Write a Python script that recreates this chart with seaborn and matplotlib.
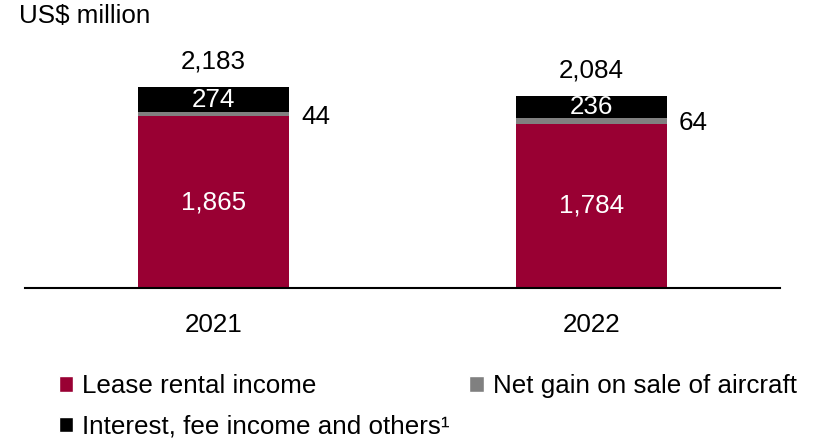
import matplotlib
matplotlib.use("Agg")
import matplotlib.pyplot as plt
from matplotlib.patches import Patch
import seaborn as sns
import pandas as pd

# Revenue breakdown, US$ million
years = ["2021", "2022"]
lease_rental = [1865, 1784]
net_gain = [44, 64]
interest_fee = [274, 236]
totals = [2183, 2084]

series_names = ["Lease rental income", "Net gain on sale of aircraft",
                "Interest, fee income and others\u00b9"]
colors = ["#990033", "#808080", "#000000"]

sns.set_theme(style="white")
plt.rcParams["font.family"] = ["Liberation Sans", "DejaVu Sans"]
plt.rcParams["text.color"] = "#000000"
FS = 18.7

df = pd.DataFrame({"year": years, "lease": lease_rental,
                   "gain": net_gain, "interest": interest_fee})
df["base_gain"] = df["lease"]
df["base_interest"] = df["lease"] + df["gain"]

fig = plt.figure(figsize=(8.16, 4.41), dpi=100)
ax = fig.add_axes([25 / 816, 1 - 288 / 441, 755 / 816, 228 / 441])

bw = 0.4
sns.barplot(data=df, x="year", y="lease", color=colors[0], width=bw,
            saturation=1, ax=ax, linewidth=0)
sns.barplot(data=df, x="year", y="gain", bottom=df["base_gain"], color=colors[1],
            width=bw, saturation=1, ax=ax, linewidth=0)
sns.barplot(data=df, x="year", y="interest", bottom=df["base_interest"],
            color=colors[2], width=bw, saturation=1, ax=ax, linewidth=0)

ax.set_xlim(-0.5, 1.5)
ax.set_ylim(0, 2475)
ax.set_xlabel("")
ax.set_ylabel("")
ax.set_yticks([])
for side in ["top", "right", "left"]:
    ax.spines[side].set_visible(False)
ax.spines["bottom"].set_color("#000000")
ax.spines["bottom"].set_linewidth(1.5)
ax.tick_params(axis="x", length=0, pad=18, labelsize=FS, colors="#000000")

for i in range(len(years)):
    # lease rental value inside the red segment
    ax.text(i, lease_rental[i] / 2, f"{lease_rental[i]:,}", ha="center",
            va="center", color="white", fontsize=FS)
    # interest/fee value inside the black segment
    ax.text(i, lease_rental[i] + net_gain[i] + interest_fee[i] / 2,
            f"{interest_fee[i]:,}", ha="center", va="center", color="white",
            fontsize=FS)
    # net gain value beside the bar
    ax.annotate(f"{net_gain[i]:,}", xy=(i + bw / 2, lease_rental[i] + net_gain[i] / 2),
                xytext=(8.5, -2), textcoords="offset points", ha="left",
                va="center", fontsize=FS, color="#000000")
    # total on top
    ax.annotate(f"{totals[i]:,}", xy=(i, totals[i]), xytext=(0, 18.5),
                textcoords="offset points", ha="center", va="center",
                fontsize=FS, color="#000000")

fig.text(19 / 816, 1 - 16 / 441, "US$ million", ha="left", va="center",
         fontsize=FS, color="#000000")

handles = [Patch(facecolor=colors[0]), Patch(facecolor=colors[2]),
           Patch(facecolor=colors[1])]
labels = [series_names[0], series_names[2], series_names[1]]
fig.legend(handles, labels, ncol=2, loc="upper left",
           bbox_to_anchor=(59 / 816, 1 - 374 / 441), frameon=False,
           fontsize=FS, handlelength=0.55, handleheight=0.55,
           handletextpad=0.35, columnspacing=0.75, labelspacing=0.64,
           borderpad=0, borderaxespad=0)

fig.savefig("out.png", dpi=100)
